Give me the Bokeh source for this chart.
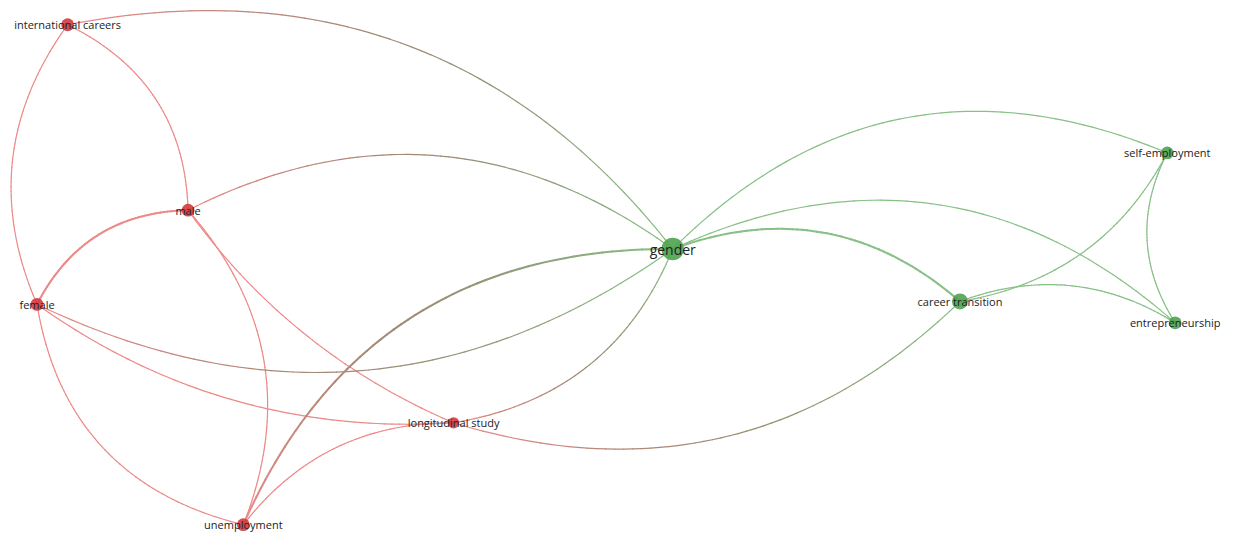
import numpy as np
from bokeh.plotting import figure
from bokeh.models import Range1d, ColumnDataSource
from bokeh.core.properties import value
from bokeh.embed import file_html
from bokeh.resources import INLINE

# ---- data -------------------------------------------------------------
labels = ["international careers", "male", "female", "gender", "career transition",
          "self-employment", "entrepreneurship", "longitudinal study", "unemployment"]
node_x = [68, 190, 37, 681, 972, 1182, 1190, 459, 246]
node_y = [25, 216, 313, 256, 310, 157, 332, 435, 540]
cluster = [1, 1, 1, 2, 2, 2, 2, 1, 1]
node_weight = [3, 3, 3, 9, 5, 3, 3, 2, 3]

edge_src = ["international careers", "international careers", "international careers",
            "female", "male", "male", "male", "female", "female", "female",
            "unemployment", "longitudinal study", "gender", "gender", "gender",
            "longitudinal study", "career transition", "career transition",
            "self-employment", "unemployment"]
edge_tgt = ["gender", "male", "female",
            "male", "gender", "unemployment", "longitudinal study", "gender",
            "longitudinal study", "unemployment",
            "gender", "gender", "self-employment", "entrepreneurship", "career transition",
            "career transition", "self-employment", "entrepreneurship",
            "entrepreneurship", "longitudinal study"]
edge_weight = [1, 1, 1, 2, 1, 1, 1, 1, 1, 1, 2, 1, 1, 1, 2, 1, 1, 1, 1, 1]
# curvature of each link (style)
edge_curve = [-0.31, -0.30, 0.28, -0.30, -0.31, -0.30, 0.14, 0.30, 0.18, 0.33,
              -0.33, 0.28, -0.34, -0.33, -0.30, 0.30, 0.25, -0.25, 0.28, -0.25]

# ---- styling ----------------------------------------------------------
node_col = {1: "#d43a3f", 2: "#4ea24e"}
edge_rgb = {1: np.array([236, 138, 138]), 2: np.array([136, 192, 136])}

p = figure(width=1226, height=532, output_backend="svg", toolbar_location=None,
           x_range=Range1d(0, 1242), y_range=Range1d(548, 0),
           min_border=0, outline_line_color=None)
p.axis.visible = False
p.grid.visible = False
p.background_fill_color = "white"

idx = {n: i for i, n in enumerate(labels)}
x0s, y0s, x1s, y1s, cols, ws = [], [], [], [], [], []
t = np.linspace(0, 1, 60)
for s, tg, c, w in zip(edge_src, edge_tgt, edge_curve, edge_weight):
    a = np.array([node_x[idx[s]], node_y[idx[s]]], float)
    b = np.array([node_x[idx[tg]], node_y[idx[tg]]], float)
    d = b - a
    L = np.hypot(*d)
    perp = np.array([-d[1], d[0]]) / L
    ctrl = (a + b) / 2 + c * L * perp
    pts = ((1 - t)[:, None] ** 2) * a + (2 * (1 - t) * t)[:, None] * ctrl + (t ** 2)[:, None] * b
    ca = edge_rgb[cluster[idx[s]]]
    cb = edge_rgb[cluster[idx[tg]]]
    for k in range(len(t) - 1):
        tm = (t[k] + t[k + 1]) / 2
        rgb = (1 - tm) * ca + tm * cb
        if cluster[idx[s]] != cluster[idx[tg]]:
            rgb = rgb * (1 - 0.15 * np.sin(np.pi * tm))
        x0s.append(pts[k, 0]); y0s.append(pts[k, 1])
        x1s.append(pts[k + 1, 0]); y1s.append(pts[k + 1, 1])
        cols.append("#%02x%02x%02x" % tuple(int(round(v)) for v in rgb))
        ws.append(1.2 if w == 1 else 2.0)

esrc = ColumnDataSource(dict(x0=x0s, y0=y0s, x1=x1s, y1=y1s, c=cols, w=ws))
p.segment("x0", "y0", "x1", "y1", source=esrc, line_color="c", line_width="w",
          line_cap="round")

sizes = [8 + 1.6 * w for w in node_weight]
nsrc = ColumnDataSource(dict(x=node_x, y=node_y, s=sizes,
                             c=[node_col[k] for k in cluster], lab=labels,
                             fs=["14px" if w > 6 else "11px" for w in node_weight]))
p.scatter("x", "y", size="s", fill_color="c", line_color=None, fill_alpha=0.9, source=nsrc)
p.text("x", "y", text="lab", source=nsrc, text_align="center", text_baseline="middle",
       text_font=value("Open Sans"), text_font_size="fs", text_color="#222222")

open("out.html", "w").write(file_html(p, INLINE))
